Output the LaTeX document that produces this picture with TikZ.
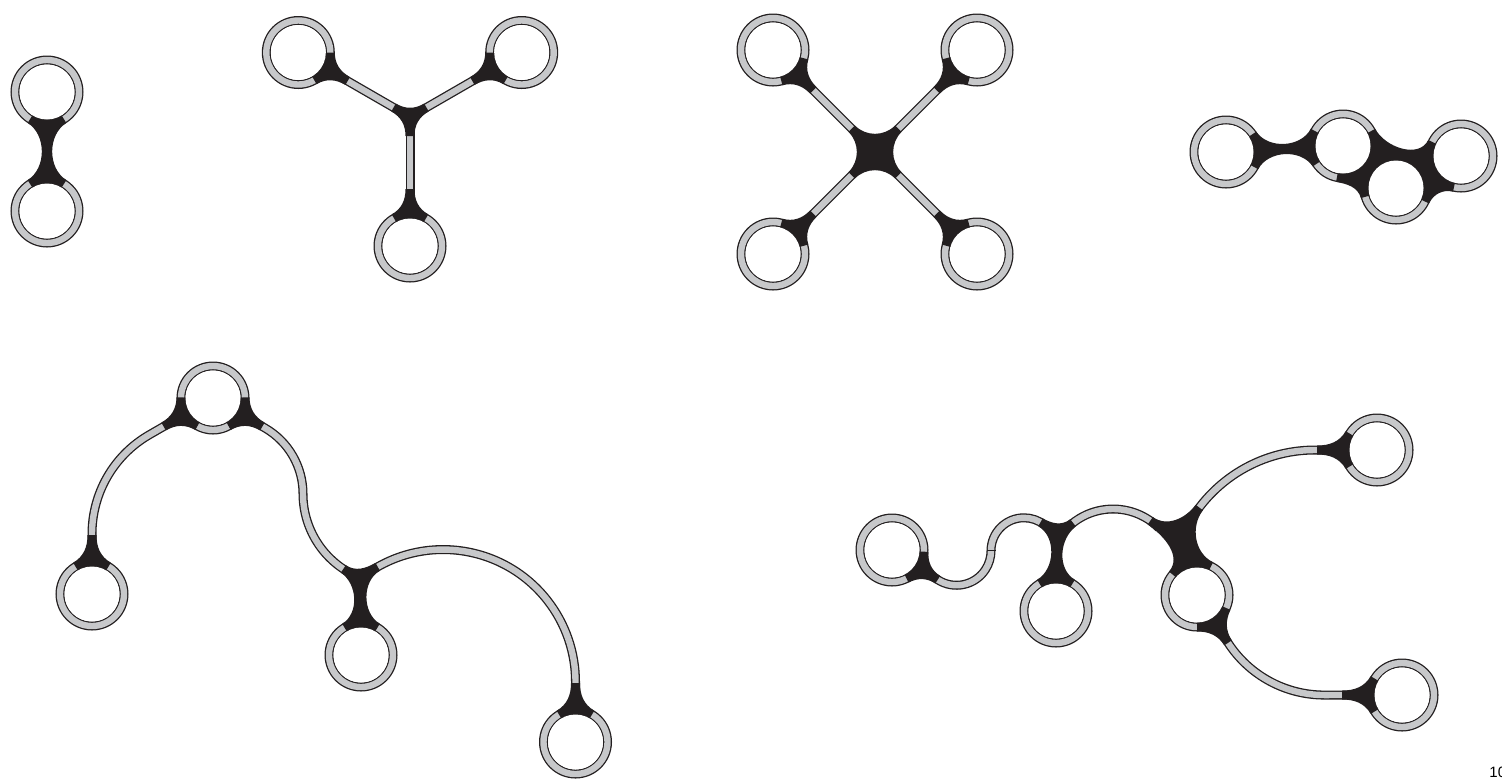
\documentclass[tikz,border=0pt]{standalone}
\usepackage{fontspec}
\setsansfont{Liberation Sans}
\usetikzlibrary{calc}
\definecolor{tk}{HTML}{231F20}
\definecolor{tg}{HTML}{C7C8CA}
\tikzset{
 tube/.style={draw=tg, line width=3.2pt, preaction={draw=tk, line width=4.5pt}},
 ringline/.style={draw=tg, line width=3.2pt, preaction={draw=tk, line width=4.5pt}},
 jn/.style={fill=tk},
 pagenum/.style={font=\sffamily\fontsize{7.5}{9}\selectfont, inner sep=0pt, anchor=base west},
}
% ring--tube junction: centre, tube direction, port distance, half angle
\newcommand\rtj[4]{%
 \pgfmathsetmacro\jpa{#2+#4}%
 \pgfmathsetmacro\jpb{#2+#4-90}%
 \pgfmathsetmacro\jpc{#2+90}%
 \pgfmathsetmacro\jpd{#2+180}%
 \pgfmathsetmacro\jpe{#2-90}%
 \pgfmathsetmacro\jpf{#2-#4}%
 \pgfmathsetmacro\jpg{#2-#4+90}%
 \fill[jn] (#1) -- ($(#1)+(\jpa:36.5)$) to[out=\jpb,in=\jpd] ($(#1)+(#2:#3)+(\jpc:4.5)$) -- ($(#1)+(#2:#3)+(\jpe:4.5)$) to[out=\jpd,in=\jpg] ($(#1)+(\jpf:36.5)$) -- cycle;}
% ring--ring junction: centre 1, centre 2, angle 1->2, half angle
\newcommand\rrj[4]{%
 \pgfmathsetmacro\jpa{#3+#4}%
 \pgfmathsetmacro\jpb{#3+#4-90}%
 \pgfmathsetmacro\jpc{#3+180-#4}%
 \pgfmathsetmacro\jpd{#3+270-#4}%
 \pgfmathsetmacro\jpe{#3+180+#4}%
 \pgfmathsetmacro\jpf{#3+90+#4}%
 \pgfmathsetmacro\jpg{#3-#4}%
 \pgfmathsetmacro\jph{#3-#4+90}%
 \fill[jn] (#1) -- ($(#1)+(\jpa:36.5)$) to[out=\jpb,in=\jpd] ($(#2)+(\jpc:36.5)$) -- (#2) -- ($(#2)+(\jpe:36.5)$) to[out=\jpf,in=\jph] ($(#1)+(\jpg:36.5)$) -- cycle;}
\begin{document}
\begin{tikzpicture}[x=0.5pt,y=0.5pt]
\useasboundingbox (0,0) rectangle (1502,-783);
% ---------- coordinates ----------
\coordinate (A1) at (47,-92);   \coordinate (B1) at (47,-211);
\coordinate (J2) at (410,-117); \coordinate (L2) at (298.3,-52.5);
\coordinate (R2) at (521.7,-52.5); \coordinate (B2) at (410,-246);
\coordinate (J3) at (875,-152); \coordinate (TL3) at (773,-50);
\coordinate (TR3) at (977,-50); \coordinate (BL3) at (773,-254);
\coordinate (BR3) at (977,-254);
\coordinate (r1) at (1226,-152); \coordinate (r2) at (1343,-146);
\coordinate (r3) at (1396,-188); \coordinate (r4) at (1461,-156);
\coordinate (T5) at (213,-398); \coordinate (BL5) at (92,-594);
\coordinate (M5) at (361,-655); \coordinate (BR5) at (575.5,-742);
\coordinate (C2) at (393,-493.9); \coordinate (C3) at (443.1,-681.9);
\coordinate (P5a) at (149.26,-434.8); \coordinate (P5b) at (264.96,-428);
\coordinate (a6) at (892,-550); \coordinate (b6) at (1056,-611);
\coordinate (c6) at (1197,-595); \coordinate (d6) at (1377,-450);
\coordinate (e6) at (1402,-695);
\coordinate (C4) at (1024,-550.8); \coordinate (C5) at (1113,-574);
\coordinate (C6) at (1314.9,-595);
\coordinate (P6a) at (937.71,-579.68);
\coordinate (K6) at (991,-550.8);
% ---------- tubes ----------
\draw[tube] (J2) -- (L2);
\draw[tube] (J2) -- (R2);
\draw[tube] (J2) -- (B2);
\foreach \c in {TL3,TR3,BL3,BR3} \draw[tube] (J3) -- (\c);
\draw[tube] (T5) -- (P5a) arc[start angle=120,end angle=180,radius=114.5] -- (BL5);
\draw[tube] (T5) -- (P5b) arc[start angle=60,end angle=0,radius=76.1]
  arc[start angle=180,end angle=249.2,radius=90]
  arc[start angle=128.3,end angle=0,radius=132.4] -- (BR5);
\draw[tube] (a6) -- (P6a) arc[start angle=237,end angle=360,radius=34.5]
  arc[start angle=180,end angle=13.7,radius=32.97]
  arc[start angle=151.5,end angle=45,radius=64.9];
\draw[tube] ($(C6)+(155:145)$) arc[start angle=155,end angle=90,radius=145] -- (d6);
\draw[tube] (c6) -- ($(c6)+(-57:57)$) arc[start angle=213,end angle=270,radius=114.7] -- (e6);
\draw[tk, line width=0.5pt] ($(K6)+(-4.5,0)$) -- ($(K6)+(4.5,0)$);
% ---------- rings ----------
\foreach \c in {A1,B1,L2,R2,B2,TL3,TR3,BL3,BR3,r1,r2,r3,r4,T5,BL5,M5,BR5,a6,b6,c6,d6,e6}
  \draw[ringline] (\c) circle[radius=32];
% ---------- junctions ----------
\rrj{A1}{B1}{-90}{32}
% fig 2
\fill[jn] ($(J2)+(-90:19)+(0:4.5)$) to[out=90,in=210] ($(J2)+(30:19)+(-60:4.5)$)
  -- ($(J2)+(30:19)+(120:4.5)$) to[out=210,in=330] ($(J2)+(150:19)+(60:4.5)$)
  -- ($(J2)+(150:19)+(240:4.5)$) to[out=330,in=90] ($(J2)+(-90:19)+(180:4.5)$) -- cycle;
\rtj{L2}{-30}{57}{30}
\rtj{R2}{-150}{57}{30}
\rtj{B2}{90}{57}{30}
% fig 3
\fill[jn] ($(J3)+(45:33)+(135:4.5)$) to[out=225,in=315] ($(J3)+(135:33)+(45:4.5)$)
  -- ($(J3)+(135:33)+(225:4.5)$) to[out=315,in=45] ($(J3)+(225:33)+(135:4.5)$)
  -- ($(J3)+(225:33)+(315:4.5)$) to[out=45,in=135] ($(J3)+(315:33)+(225:4.5)$)
  -- ($(J3)+(315:33)+(45:4.5)$) to[out=135,in=225] ($(J3)+(45:33)+(-45:4.5)$) -- cycle;
\rtj{TL3}{-45}{57}{30}
\rtj{TR3}{-135}{57}{30}
\rtj{BL3}{45}{57}{30}
\rtj{BR3}{135}{57}{30}
% fig 4
\rrj{r1}{r2}{2.94}{31}
\fill[jn] ($(r2)+(28:36.5)$) to[out=-62,in=244] ($(r4)+(154:36.5)$) -- (r4)
  -- ($(r4)+(-102.7:36.5)$) to[out=167.3,in=65] ($(r3)+(-25:36.5)$) -- (r3)
  -- ($(r3)+(196:36.5)$) to[out=106,in=-11] ($(r2)+(-101:36.5)$) -- (r2) -- cycle;
% fig 5
\rtj{T5}{-150}{57}{31}
\rtj{T5}{-30}{57}{31}
\rtj{BL5}{90}{59}{31}
\rtj{BR5}{90}{59}{31}
\fill[jn] ($(M5)+(59:36.5)$) to[out=149,in=209.6] ($(C3)+(119.6:127.9)$)
  -- ($(C3)+(119.6:136.9)$) to[out=209.6,in=-33.5] ($(C2)+(236.5:85.5)$)
  -- ($(C2)+(236.5:94.5)$) to[out=-33.5,in=31] ($(M5)+(121:36.5)$) -- (M5) -- cycle;
% fig 6
\rtj{a6}{-33}{54.5}{30}
\fill[jn] ($(b6)+(59:36.5)$) to[out=149,in=218] ($(C5)+(128:60.5)$)
  -- ($(C5)+(128:69.5)$) to[out=218,in=-30] ($(C4)+(60:37.5)$)
  -- ($(C4)+(60:28.5)$) to[out=-30,in=31] ($(b6)+(121:36.5)$) -- (b6) -- cycle;
\fill[jn] ($(c6)+(64:36.5)$) to[out=154,in=232.9] ($(C6)+(142.9:140.5)$)
  -- ($(C6)+(142.9:149.5)$) to[out=232.9,in=-35] ($(C5)+(55:69.5)$)
  -- ($(C5)+(55:60.5)$) to[out=-35,in=50] ($(c6)+(140:36.5)$) -- (c6) -- cycle;
\rtj{c6}{-57}{57}{33}
\rtj{d6}{180}{60}{31}
\rtj{e6}{180}{60}{31}
% ---------- ring interiors ----------
\foreach \c in {A1,B1,L2,R2,B2,TL3,TR3,BL3,BR3,r1,r2,r3,r4,T5,BL5,M5,BR5,a6,b6,c6,d6,e6}
  \fill[white] (\c) circle[radius=27.5];
% ---------- page number ----------
\node[pagenum] (pg) at (1489,-777) {10};
\end{tikzpicture}
\end{document}
